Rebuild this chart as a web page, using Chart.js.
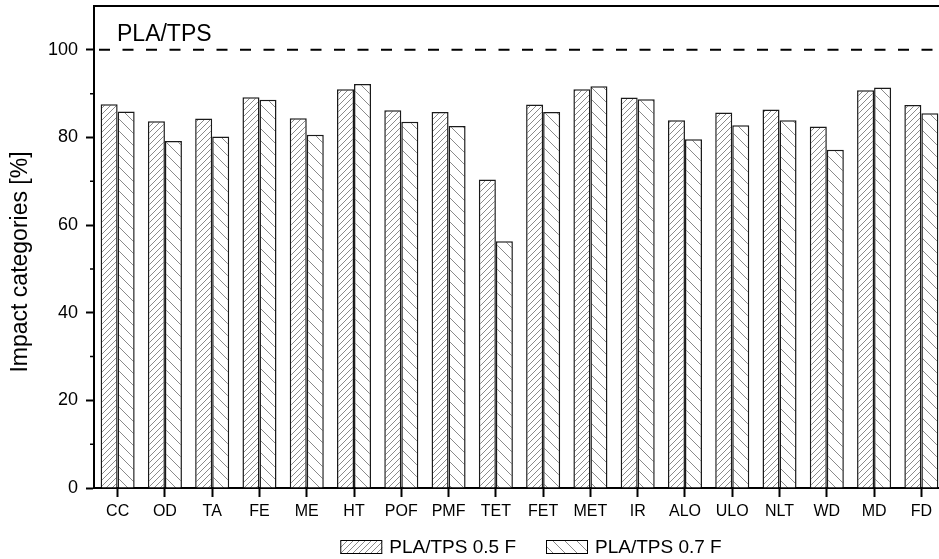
<!DOCTYPE html>
<html>
<head>
<meta charset="utf-8">
<script src="https://cdn.jsdelivr.net/npm/chart.js@4.4.0/dist/chart.umd.min.js"></script>
<style>
    html, body { margin: 0; padding: 0; background: #fff; overflow: hidden; }
    canvas { display: block; }
</style>
</head>
<body>
<canvas id="impact-chart" width="945" height="559"></canvas>
<script>
// Relative impact of PLA/TPS blends (PLA/TPS = 100 %)
const categories = ['CC', 'OD', 'TA', 'FE', 'ME', 'HT', 'POF', 'PMF', 'TET', 'FET', 'MET', 'IR', 'ALO', 'ULO', 'NLT', 'WD', 'MD', 'FD'];
const seriesLabels = ['PLA/TPS 0.5 F', 'PLA/TPS 0.7 F'];
const values05F = [87.6, 83.7, 84.3, 89.2, 84.4, 91.0, 86.2, 85.8, 70.4, 87.5, 91.0, 89.1, 83.9, 85.7, 86.4, 82.5, 90.8, 87.4];
const values07F = [85.9, 79.2, 80.2, 88.6, 80.6, 92.2, 83.6, 82.6, 56.3, 85.8, 91.7, 88.7, 79.6, 82.8, 83.9, 77.2, 91.4, 85.5];
const yTicks = [0, 20, 40, 60, 80, 100];
const yMinorTicks = [10, 30, 50, 70, 90];
const referenceLevel = 100;
const referenceLabel = 'PLA/TPS';
const yTitle = 'Impact categories [%]';

const FONT = "'Liberation Sans', Arial, Helvetica, sans-serif";
Chart.defaults.font.family = FONT;
Chart.defaults.color = '#000';

const canvas = document.getElementById('impact-chart');
const ctx = canvas.getContext('2d');

// hatch fill: '/' dense, '\' wide
function hatch(size, dir) {
    const c = document.createElement('canvas');
    c.width = size;
    c.height = size;
    const g = c.getContext('2d');
    g.fillStyle = '#fff';
    g.fillRect(0, 0, size, size);
    g.strokeStyle = '#8a8a8a';
    g.lineWidth = 1;
    g.beginPath();
    if (dir === '/') {
        g.moveTo(-1, size + 1); g.lineTo(size + 1, -1);
        g.moveTo(-1, 1); g.lineTo(1, -1);
        g.moveTo(size - 1, size + 1); g.lineTo(size + 1, size - 1);
    } else {
        g.moveTo(-1, -1); g.lineTo(size + 1, size + 1);
        g.moveTo(size - 1, -1); g.lineTo(size + 1, 1);
        g.moveTo(-1, size - 1); g.lineTo(1, size + 1);
    }
    g.stroke();
    return ctx.createPattern(c, 'repeat');
}

const fills = [hatch(6, '/'), hatch(12, '\\')];

const extras = {
    id: 'extras',
    afterDatasetsDraw(chart) {
        const { ctx, chartArea: a, scales: { y } } = chart;
        ctx.save();

        // top frame line
        ctx.strokeStyle = '#000';
        ctx.lineWidth = 2;
        ctx.beginPath();
        ctx.moveTo(a.left - 1, a.top);
        ctx.lineTo(a.right, a.top);
        ctx.stroke();

        // minor ticks on y
        ctx.lineWidth = 1.5;
        ctx.beginPath();
        yMinorTicks.forEach(v => {
            const py = y.getPixelForValue(v);
            ctx.moveTo(a.left - 4, py);
            ctx.lineTo(a.left, py);
        });
        ctx.stroke();

        // reference line at 100 %
        const ry = y.getPixelForValue(referenceLevel);
        ctx.lineWidth = 2;
        ctx.setLineDash([11, 12.5]);
        ctx.beginPath();
        ctx.moveTo(a.left + 5, ry);
        ctx.lineTo(a.right, ry);
        ctx.stroke();
        ctx.setLineDash([]);

        ctx.fillStyle = '#000';
        ctx.font = '23px ' + FONT;
        ctx.textAlign = 'left';
        ctx.textBaseline = 'alphabetic';
        ctx.fillText(referenceLabel, a.left + 23, ry - 8.5);

        // y axis title
        ctx.save();
        ctx.translate(21, (a.top + a.bottom) / 2 + 15);
        ctx.rotate(-Math.PI / 2);
        ctx.textAlign = 'center';
        ctx.textBaseline = 'middle';
        ctx.font = '23px ' + FONT;
        ctx.fillText(yTitle, 0, 0);
        ctx.restore();

        // legend
        ctx.font = '19px ' + FONT;
        ctx.textBaseline = 'middle';
        const boxW = 42, boxH = 14, gap = 7, itemGap = 30;
        const widths = chart.data.datasets.map(ds => boxW + gap + ctx.measureText(ds.label).width);
        const total = widths.reduce((s, w) => s + w, 0) + itemGap * (widths.length - 1);
        let x = 531 - total / 2;
        const top = 540;
        chart.data.datasets.forEach((ds, i) => {
            ctx.fillStyle = ds.backgroundColor;
            ctx.fillRect(x, top, boxW, boxH);
            ctx.strokeStyle = '#000';
            ctx.lineWidth = 1;
            ctx.strokeRect(x + 0.5, top + 0.5, boxW - 1, boxH - 1);
            ctx.fillStyle = '#000';
            ctx.fillText(ds.label, x + boxW + gap, top + boxH / 2 + 1);
            x += widths[i] + itemGap;
        });

        ctx.restore();
    }
};

new Chart(canvas, {
    type: 'bar',
    data: {
        labels: categories,
        datasets: [
            {
                label: seriesLabels[0],
                data: values05F,
                backgroundColor: fills[0],
                borderColor: '#1a1a1a',
                borderWidth: 1.5,
                categoryPercentage: 0.72,
                barPercentage: 1.0
            },
            {
                label: seriesLabels[1],
                data: values07F,
                backgroundColor: fills[1],
                borderColor: '#1a1a1a',
                borderWidth: 1.5,
                categoryPercentage: 0.72,
                barPercentage: 1.0
            }
        ]
    },
    options: {
        responsive: false,
        animation: false,
        devicePixelRatio: 1,
        layout: { padding: { top: 6, left: 0, right: 0, bottom: 0 } },
        plugins: {
            legend: { display: false },
            tooltip: { enabled: false }
        },
        scales: {
            x: {
                offset: true,
                grid: {
                    display: true,
                    offset: false,
                    drawOnChartArea: false,
                    drawTicks: true,
                    tickLength: 9,
                    tickWidth: 2,
                    tickColor: '#000'
                },
                border: { display: true, color: '#000', width: 2 },
                ticks: {
                    font: { size: 16 },
                    color: '#000',
                    padding: 5,
                    autoSkip: false,
                    maxRotation: 0
                },
                afterFit(scale) {
                    scale.height = 71;
                    scale.paddingLeft = 0;
                    scale.paddingRight = 0;
                }
            },
            y: {
                min: 0,
                max: 110,
                grid: {
                    drawOnChartArea: false,
                    tickLength: 8,
                    tickWidth: 2,
                    tickColor: '#000'
                },
                border: { display: true, color: '#000', width: 2 },
                ticks: {
                    font: { size: 18 },
                    color: '#000',
                    padding: 8
                },
                afterBuildTicks(scale) {
                    scale.ticks = yTicks.map(value => ({ value }));
                },
                afterFit(scale) {
                    scale.width = 94;
                    scale.paddingTop = 0;
                    scale.paddingBottom = 0;
                }
            }
        }
    },
    plugins: [extras]
});
</script>
</body>
</html>
